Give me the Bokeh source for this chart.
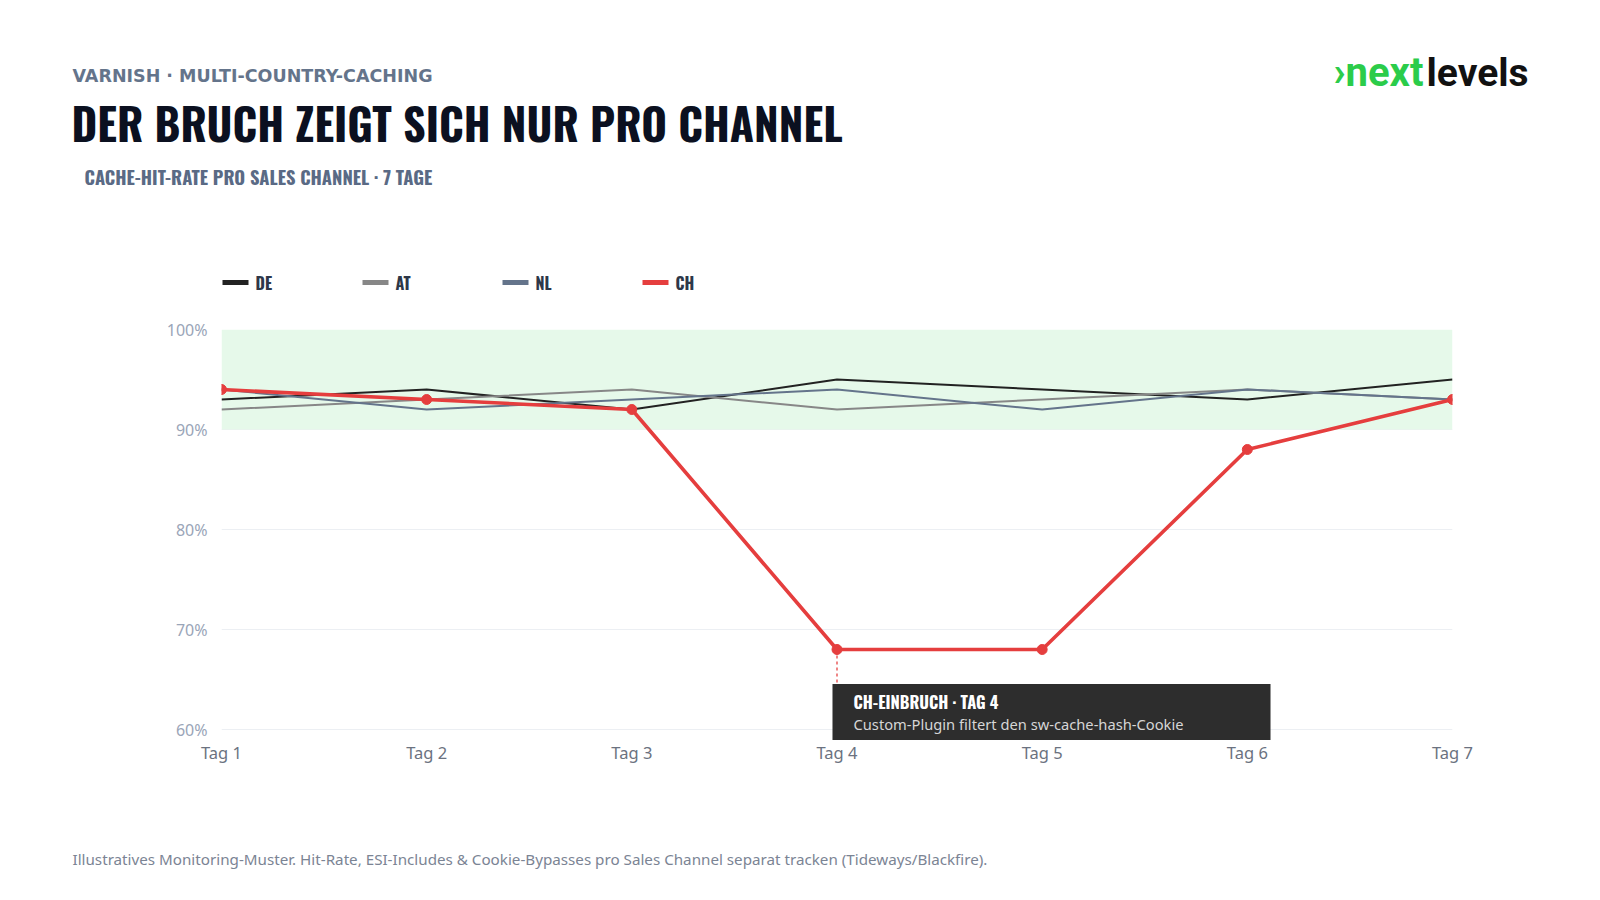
from bokeh.plotting import figure
from bokeh.models import (ColumnDataSource, FixedTicker, Label, BoxAnnotation, Range1d)
from bokeh.layouts import column
from bokeh.embed import file_html
from bokeh.resources import INLINE

# ---- data ----
days = ["Tag 1", "Tag 2", "Tag 3", "Tag 4", "Tag 5", "Tag 6", "Tag 7"]
series_names = ["DE", "AT", "NL", "CH"]
de = [93, 94, 92, 95, 94, 93, 95]
at = [92, 93, 94, 92, 93, 94, 93]
nl = [94, 92, 93, 94, 92, 94, 93]
ch = [94, 93, 92, 68, 68, 88, 93]
y_ticks = [60, 70, 80, 90, 100]
target_band = (90, 100)
event_index = 3

cond_font = "Oswald"
body_font = "Noto Sans"
colors = {"DE": "#222222", "AT": "#878787", "NL": "#64748b", "CH": "#e53e3e"}

W = 1600
HEAD_H, CHART_H, FOOT_H = 300, 500, 100
FL, FR = 221, 1452
FT, FB = 329, 740          # frame top/bottom in page px


def blank(h, y0):
    f = figure(width=W, height=h, output_backend="svg", toolbar_location=None,
               x_range=Range1d(0, W), y_range=Range1d(y0 + h, y0),
               min_border=0, x_axis_type=None, y_axis_type=None, frame_align=False)
    f.outline_line_color = None
    f.xgrid.grid_line_color = None
    f.ygrid.grid_line_color = None
    f.border_fill_color = "white"
    f.background_fill_color = "white"
    return f


# ---------------- header ----------------
head = blank(HEAD_H, 0)
head.add_layout(Label(x=72, y=75, text="VARNISH · MULTI-COUNTRY-CACHING", text_font="DejaVu Sans",
                      text_font_style="bold", text_font_size="17.5px", text_color="#64748b",
                      text_baseline="middle"))
head.add_layout(Label(x=71, y=122, text="DER BRUCH ZEIGT SICH NUR PRO CHANNEL",
                      text_font=cond_font, text_font_style="bold", text_font_size="44px",
                      text_color="#0b1020", text_baseline="middle"))
head.add_layout(Label(x=84, y=176, text="CACHE-HIT-RATE PRO SALES CHANNEL · 7 TAGE",
                      text_font=cond_font, text_font_style="bold", text_font_size="18.5px",
                      text_color="#5a6a85", text_baseline="middle"))
head.add_layout(Label(x=1333, y=72, text="›next", text_font="Roboto", text_font_style="bold",
                      text_font_size="40px", text_color="#2bcc4a", text_baseline="middle"))
head.add_layout(Label(x=1426, y=72, text="levels", text_font="Roboto", text_font_style="bold",
                      text_font_size="39px", text_color="#111111", text_baseline="middle"))

# legend (swatches + labels)
leg_x = [222 + 140 * i for i in range(len(series_names))]
leg_y = 282
head.segment(x0=leg_x, y0=[leg_y] * 4, x1=[x + 26 for x in leg_x], y1=[leg_y] * 4,
             line_color=[colors[n] for n in series_names], line_width=5)
for x, n in zip(leg_x, series_names):
    head.add_layout(Label(x=x + 33, y=leg_y, text=n, text_font=cond_font,
                          text_font_style="bold", text_font_size="16px",
                          text_color="#2d3748", text_baseline="middle"))

# ---------------- chart ----------------
p = figure(width=W, height=CHART_H, output_backend="svg", toolbar_location=None,
           x_range=Range1d(0, len(days) - 1), y_range=Range1d(58.9, 100),
           min_border_left=FL, min_border_right=W - FR,
           min_border_top=FT - HEAD_H, min_border_bottom=HEAD_H + CHART_H - FB,
           frame_align=False)
p.outline_line_color = None
p.background_fill_color = "white"
p.border_fill_color = "white"

xs = list(range(len(days)))
p.xaxis.ticker = FixedTicker(ticks=xs)
p.xaxis.major_label_overrides = {i: d for i, d in enumerate(days)}
p.xaxis.axis_line_color = None
p.xaxis.major_tick_line_color = None
p.xaxis.minor_tick_line_color = None
p.xaxis.major_label_standoff = -6
p.xaxis.major_label_text_font = body_font
p.xaxis.major_label_text_font_size = "16.5px"
p.xaxis.major_label_text_color = "#6b7280"

p.yaxis.ticker = FixedTicker(ticks=y_ticks)
p.yaxis.major_label_overrides = {t: f"{t}%" for t in y_ticks}
p.yaxis.axis_line_color = None
p.yaxis.major_tick_line_color = None
p.yaxis.minor_tick_line_color = None
p.yaxis.major_label_standoff = 8
p.yaxis.major_label_text_font = body_font
p.yaxis.major_label_text_font_size = "16px"
p.yaxis.major_label_text_color = "#9aa5b8"

p.xgrid.grid_line_color = None
p.ygrid.grid_line_color = "#eceff3"
p.ygrid.grid_line_width = 1

p.add_layout(BoxAnnotation(bottom=target_band[0], top=target_band[1],
                           fill_color="#e6f9ea", fill_alpha=1, line_color=None,
                           level="underlay"))

src = ColumnDataSource(dict(x=xs, de=de, at=at, nl=nl, ch=ch))
p.line("x", "de", source=src, line_color=colors["DE"], line_width=2)
p.line("x", "at", source=src, line_color=colors["AT"], line_width=2)
p.line("x", "nl", source=src, line_color=colors["NL"], line_width=2)

box_top = 64.56
p.segment(x0=[event_index], y0=[ch[event_index]], x1=[event_index], y1=[box_top],
          line_color=colors["CH"], line_dash="3 3", line_width=1.5, line_alpha=0.85)

p.line("x", "ch", source=src, line_color=colors["CH"], line_width=3.6)
p.scatter("x", "ch", source=src, size=10, fill_color=colors["CH"], line_color=colors["CH"])

p.quad(left=[event_index - 0.022], right=[5.113], bottom=[58.95], top=[box_top],
       fill_color="#2d2d2d", line_color=None)

p.add_layout(Label(x=853 - FL, y=FB - 701, x_units="screen", y_units="screen",
                   text="CH-EINBRUCH · TAG 4", text_font=cond_font, text_font_style="bold",
                   text_font_size="16.5px", text_color="white", text_baseline="middle"))
p.add_layout(Label(x=853 - FL, y=FB - 723, x_units="screen", y_units="screen",
                   text="Custom-Plugin filtert den sw-cache-hash-Cookie", text_font=body_font,
                   text_font_size="14.7px", text_color="#d6d6d6", text_baseline="middle"))

# ---------------- footer ----------------
foot = blank(FOOT_H, HEAD_H + CHART_H)
foot.add_layout(Label(x=72, y=858,
                      text="Illustratives Monitoring-Muster. Hit-Rate, ESI-Includes & Cookie-Bypasses pro Sales Channel separat tracken (Tideways/Blackfire).",
                      text_font=body_font, text_font_size="15.2px", text_color="#7b8494",
                      text_baseline="middle"))

layout = column(head, p, foot, spacing=0)
open("out.html", "w").write(file_html(layout, INLINE))
